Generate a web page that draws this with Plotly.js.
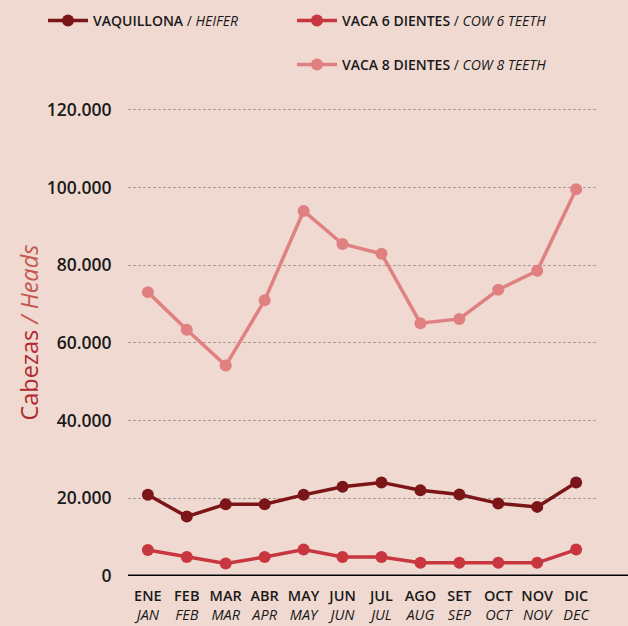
<!DOCTYPE html>
<html>
<head>
<meta charset="utf-8">
<script src="https://cdn.plot.ly/plotly-3.0.1.min.js"></script>
<style>
html,body{margin:0;padding:0;background:#EFD9D1;}
#chart{width:628px;height:626px;}
</style>
</head>
<body>
<div id="chart"></div>
<script>
const monthsES = ["ENE","FEB","MAR","ABR","MAY","JUN","JUL","AGO","SET","OCT","NOV","DIC"];
const monthsEN = ["JAN","FEB","MAR","APR","MAY","JUN","JUL","AUG","SEP","OCT","NOV","DEC"];
const heifer = [20900,15300,18500,18500,20900,23000,24100,22100,21000,18700,17800,24100];
const cow6 = [6700,4900,3200,4900,6800,4900,4900,3400,3400,3400,3400,6800];
const cow8 = [73100,63400,54200,71000,94000,85500,83000,65100,66200,73700,78600,99600];
const yTicks = [0,20000,40000,60000,80000,100000,120000];

const idx = monthsES.map((_, i) => i);
const tickText = monthsES.map((m, i) => '<span style="font-weight:600">' + m + '</span><br><i>' + monthsEN[i] + '</i>');

function tr(y, color, name, legend) {
  return {
    x: idx, y: y, type: 'scatter', mode: 'lines+markers',
    name: name, legend: legend,
    line: {color: color, width: 3.5},
    marker: {color: color, size: 12},
    cliponaxis: false,
    hoverinfo: 'skip'
  };
}

const data = [
  tr(heifer, '#7B1518', '<span style="font-weight:600">VAQUILLONA</span> / <i>HEIFER</i>', 'legend'),
  tr(cow6, '#C8363F', '<span style="font-weight:600">VACA 6 DIENTES</span> / <i>COW 6 TEETH</i>', 'legend2'),
  tr(cow8, '#E08080', '<span style="font-weight:600">VACA 8 DIENTES</span> / <i>COW 8 TEETH</i>', 'legend3')
];

const W = 628, H = 626, B = 50;
const PH = H - B;           // paper height (top margin 0)
const yMax = 121000;
const plotLeft = 128, plotRight = 596, plotBottom = 576;
const plotTop = 110 - (yMax - 120000) * (576 - 110) / 120000;

const legFont = {family: 'Open Sans, sans-serif', size: 14, color: '#1a1a1a'};
const legBase = {xref: 'paper', yref: 'paper', xanchor: 'left', yanchor: 'middle',
  bgcolor: 'rgba(0,0,0,0)', font: legFont, orientation: 'v', itemclick: false, itemwidth: 40};

const layout = {
  width: W, height: H,
  paper_bgcolor: '#EFD9D1', plot_bgcolor: '#EFD9D1',
  separators: ',.',
  margin: {l: 0, r: 0, t: 0, b: B, pad: 0},
  font: {family: 'Open Sans, sans-serif', color: '#1a1a1a'},
  showlegend: true,
  legend: Object.assign({}, legBase, {x: 43/W, y: 1 - 21/PH}),
  legend2: Object.assign({}, legBase, {x: 292/W, y: 1 - 21/PH}),
  legend3: Object.assign({}, legBase, {x: 292/W, y: 1 - 65/PH}),
  xaxis: {
    domain: [plotLeft / W, plotRight / W],
    range: [-0.51, 11.51], tickmode: 'array', tickvals: idx, ticktext: tickText,
    showgrid: false, zeroline: false, showline: false, automargin: false,
    ticks: 'outside', ticklen: 7, tickcolor: 'rgba(0,0,0,0)',
    tickfont: {family: 'Open Sans, sans-serif', size: 14.5, color: '#1a1a1a'},
    fixedrange: true
  },
  yaxis: {
    domain: [0, (plotBottom - plotTop) / PH],
    range: [0, yMax], tickmode: 'array', tickvals: yTicks, tickformat: ',d',
    showgrid: true, gridcolor: '#a89a94', gridwidth: 1, griddash: '3px,2px',
    zeroline: false, showline: false, automargin: false,
    ticks: 'outside', ticklen: 12, tickcolor: 'rgba(0,0,0,0)',
    tickfont: {family: 'Open Sans, sans-serif', size: 17.5, color: '#1a1a1a', weight: 600},
    fixedrange: true
  },
  annotations: [{
    text: 'Cabezas <span style="color:#C4574F"><i>/ Heads</i></span>',
    xref: 'paper', yref: 'paper', x: 28 / W, y: (PH - 332.5) / PH,
    xanchor: 'center', yanchor: 'middle', textangle: -90, showarrow: false,
    font: {family: 'Open Sans, sans-serif', size: 23.5, color: '#B22A2E'}
  }],
  shapes: [{
    type: 'line', xref: 'paper', yref: 'y', x0: plotLeft / W, x1: 1,
    y0: 0, y1: 0, line: {color: '#000000', width: 3}, layer: 'above'
  }]
};

Plotly.newPlot('chart', data, layout, {displayModeBar: false, staticPlot: true});
</script>
</body>
</html>
